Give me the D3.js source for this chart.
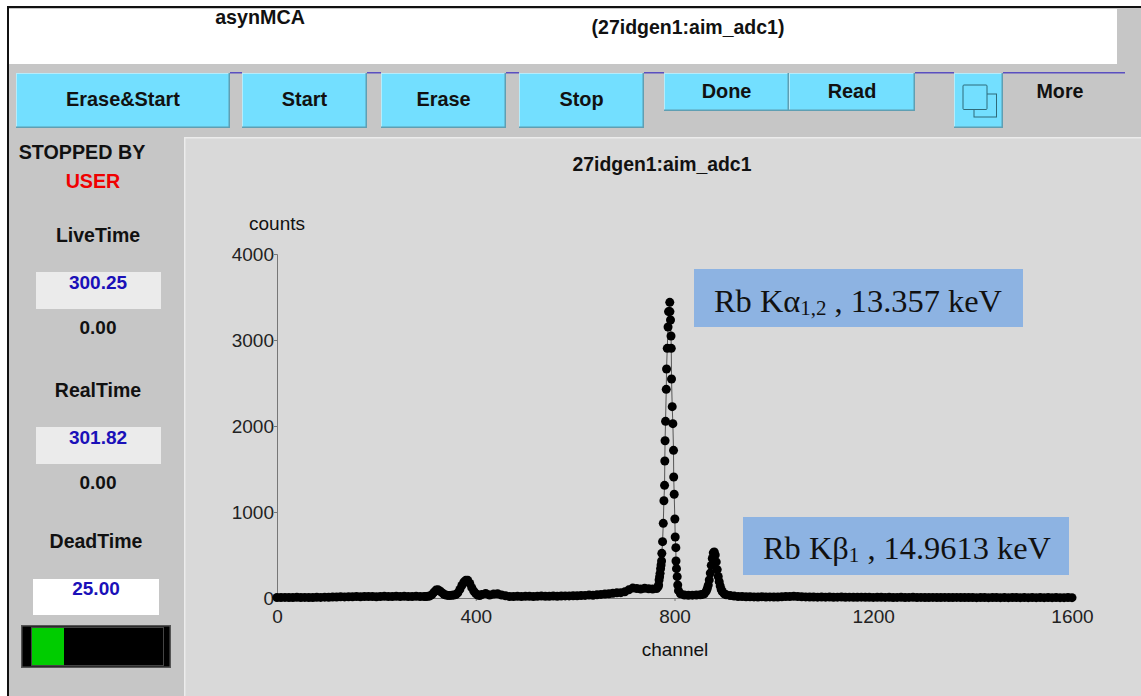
<!DOCTYPE html>
<html><head><meta charset="utf-8">
<script src="https://cdn.jsdelivr.net/npm/d3@7"></script>
<style>html,body{margin:0;padding:0;background:#fff}svg{display:block}
text{font-family:"Liberation Sans",Arial,sans-serif;fill:#111}</style></head><body>
<svg id="c" width="1141" height="696"></svg>
<script>
const startChannels=d3.range(0,300,8);
const startCounts=[6,5,7,6,5,8,6,7,5,6,8,7,10,9,12,11,14,13,15,14,16,15,17,16,18,15,17,19,16,18,20,17,19,18,16,19,17,18];
const bumpChannels=d3.range(300,412,4);
const bumpCounts=[18,20,24,40,68,92,95,82,62,44,34,30,30,32,34,40,60,100,145,185,205,205,170,120,80,52,35,28];
const midChannels=d3.range(412,768,8);
const midCounts=[40,52,34,46,50,35,25,18,18,20,17,19,21,18,20,22,19,21,23,20,22,24,24,26,25,28,30,34,32,38,42,46,50,55,60,62,72,95,115,110,105,112,108,105,110];
const alphaChannels=[767,768,769,770,771,772,773,774,774.5,776,777.4,778.7,780,780.5,781,782,783.4,784,785.4,787,788,790.5,790.8,792,793,793.5,794,795.4,796.7,798,798.4,799.4,800.7,801.4,802.7,803,804,805.4,806.5];
const alphaCounts=[130,151,209,248,287,341,384,430,519,655,868,1131,1310,1593,1829,2054,2426,2663,2903,3151,3330,3438,3330,3233,3047,2903,2547,2225,2027,1717,1407,1206,919,709,585,430,341,248,151];
const betaChannels=[808,812,820,828,836,844,852,856,860,864,866,868,870,872,874,876,878,880,882,884,886,888,890,892,894,896,900,904,912];
const betaCounts=[85,50,35,32,33,35,38,42,50,80,110,150,210,290,380,460,525,535,500,420,330,250,190,140,100,75,50,38,28];
const tailChannels=d3.range(920,1604,8);
const tailCounts=[22,18,16,15,14,13,12,14,12,13,11,12,14,16,18,20,18,15,13,12,11,10,12,10,11,9,10,11,9,10,8,9,10,8,9,7,8,9,7,8,6,7,8,6,7,8,6,7,5,6,7,5,6,7,5,6,7,5,6,5,6,4,5,6,4,5,6,4,5,4,5,6,4,5,4,5,4,5,4,5,4,5,4,4,5,4].slice(0,tailChannels.length);
const xTicks=[0,400,800,1200,1600];
const yTicks=[0,1000,2000,3000,4000];
const buttons=[["Erase&Start",16,230,73,128],["Start",242,367,73,128],["Erase",381,506,73,128],["Stop",519,644,73,128],["Done",664,789,73,111],["Read",789,915,73,111]];
const purple=[[230,242],[367,381],[506,519],[644,664],[915,954],[1003,1125]];
const readouts=[["LiveTime","300.25","0.00",235,36,272,"#ebebeb"],["RealTime","301.82","0.00",390,36,427,"#ebebeb"]];

const svg=d3.select("#c");
const rect=(x,y,w,h,f)=>svg.append("rect").attr("x",x).attr("y",y).attr("width",w).attr("height",h).attr("fill",f);
const text=(s,x,y,size,opt={})=>svg.append("text").attr("x",x).attr("y",y).attr("font-size",size)
  .attr("text-anchor",opt.anchor||"middle").attr("font-weight",opt.weight||"bold").style("fill",opt.fill||"#111").text(s);

rect(7,7,1134,689,"#c6c6c6");
rect(9,9,1108,55,"#fff");
rect(7,6,1134,2,"#111"); rect(7,6,2,690,"#111");
text("asynMCA",260,24,19.7); text("(27idgen1:aim_adc1)",688,34,19.5);
purple.forEach(p=>rect(p[0],72,p[1]-p[0],1.5,"#5a4fc0"));

function button(x0,x1,y0,y1){
  rect(x0,y0,x1-x0,y1-y0,"#73dfff");
  rect(x0,y0,x1-x0,1,"#b5ecfb"); rect(x0,y0,1,y1-y0,"#b5ecfb");
  rect(x0,y1-1.5,x1-x0,1.5,"#5f9fb3"); rect(x1-1.5,y0,1.5,y1-y0,"#5f9fb3");
}
buttons.forEach(b=>{button(b[1],b[2],b[3],b[4]);text(b[0],(b[1]+b[2])/2,b[4]<120?98:106,19.9);});
button(954,1003,73,128);
svg.append("rect").attr("x",974).attr("y",94).attr("width",22.5).attr("height",23).attr("fill","none").attr("stroke","#2f6b7a");
svg.append("rect").attr("x",963).attr("y",85).attr("width",24).attr("height",24.5).attr("rx",1).attr("fill","#73dfff").attr("stroke","#2f6b7a");
text("More",1060,98,19.7);

rect(185,138,956,558,"#d9d9d9"); rect(184,137,957,1.5,"#ececec"); rect(184,137,1.5,559,"#ececec");
text("STOPPED BY",82,159,19.7); text("USER",93,188,19.7,{fill:"#f00000"});
readouts.forEach(r=>{
  text(r[0],98,r[3]+7,19.5);
  rect(r[4],r[5],125,37,r[6]);
  text(r[1],98,r[5]+17,19,{fill:"#1a10b8"});
  text(r[2],98,r[5]+62,19);
});
text("DeadTime",96,548,19.5);
rect(33,579,126,36,"#fff");
text("25.00",96,595,19,{fill:"#1a10b8"});
rect(21,625,150,43,"#555"); rect(22.5,626.5,147,40,"#000");
rect(31,627,133,39,"#444"); rect(32,628,131,37,"#000"); rect(32,628,32,37,"#00cc00");

const x=d3.scaleLinear().domain([0,1600]).range([277,1072]);
const y=d3.scaleLinear().domain([0,4000]).range([598,254]);
const channels=[...startChannels,...bumpChannels,...midChannels,...alphaChannels,...betaChannels,...tailChannels];
const counts=[...startCounts,...bumpCounts,...midCounts,...alphaCounts,...betaCounts,...tailCounts];
const pts=channels.map((c,i)=>[c,counts[i]]);

const gx=svg.append("g").attr("transform","translate(0,598)").call(d3.axisBottom(x).tickValues(xTicks).tickFormat(d3.format("d")).tickSize(3).tickPadding(9));
const gy=svg.append("g").attr("transform","translate(277,0)").call(d3.axisLeft(y).tickValues(yTicks).tickFormat(d3.format("d")).tickSize(3).tickPadding(0));
[gx,gy].forEach(g=>{g.selectAll("path,line").attr("stroke","#777");g.selectAll("text").attr("font-size",19).style("fill","#222").attr("font-weight","normal");g.attr("font-family",null);});
gy.selectAll("text").attr("dy","0.33em");
text("counts",277,230,19,{weight:"normal"});
text("channel",675,656,19,{weight:"normal"});
text("27idgen1:aim_adc1",662,171,19.4);

svg.append("path").datum(pts).attr("fill","none").attr("stroke","#555").attr("stroke-width",1)
  .attr("d",d3.line().x(d=>x(d[0])).y(d=>y(d[1])));
svg.append("g").selectAll("circle").data(pts).join("circle")
  .attr("cx",d=>x(d[0])).attr("cy",d=>y(d[1])).attr("r",4.5).attr("fill","#000");

function note(bx,by,bw,bh,main,sub,rest,tx,ty){
  rect(bx,by,bw,bh,"#8db3e2");
  const t=svg.append("text").attr("x",tx).attr("y",ty).attr("font-size",32.4).style("font-family",'"Liberation Serif",serif').style("fill","#111");
  t.append("tspan").text(main);
  t.append("tspan").attr("font-size",21).attr("dy",3).text(sub);
  t.append("tspan").attr("dy",-3).text(rest);
}
note(694,269,329,58,"Rb Kα","1,2"," , 13.357 keV",714,312);
note(743,517,326,58,"Rb Kβ","1"," , 14.9613 keV",763,559);
</script></body></html>
